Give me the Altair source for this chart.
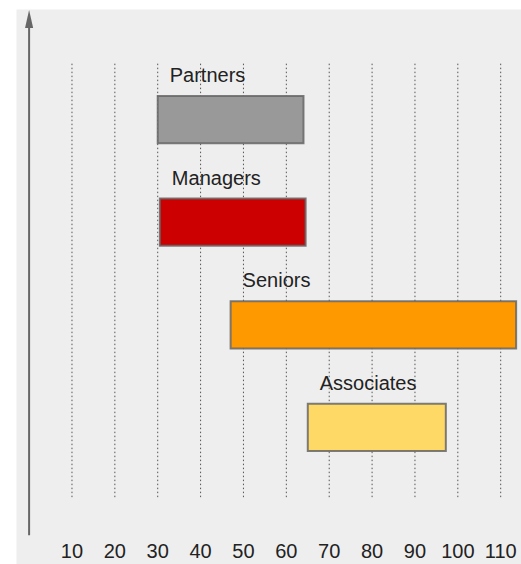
import altair as alt
import pandas as pd

# ---- data ----
groups = ["Partners", "Managers", "Seniors", "Associates"]
levels = [4, 3, 2, 1]
starts = [30, 30.5, 47, 65]
ends = [64, 64.5, 113.6, 97.2]
colors = ["#999999", "#cc0000", "#ff9900", "#ffd966"]
ticks = [10, 20, 30, 40, 50, 60, 70, 80, 90, 100, 110]

df = pd.DataFrame({"group": groups, "level": levels, "start": starts, "end": ends})
tdf = pd.DataFrame({"t": ticks})
one = pd.DataFrame({"a": [0]})

BAR_HALF = 0.23
FONT = "Liberation Sans Narrow, Liberation Sans, Arial"

xs = alt.Scale(domain=[0, 110], range=[13.1, 484.7])
ys = alt.Scale(domain=[0, 5], range=[521, 8])

grid = alt.Chart(tdf).mark_rule(strokeDash=[1.5, 2.5], color="#555", strokeWidth=1).encode(
    x=alt.X("t:Q", scale=xs, axis=None),
    y=alt.Y(datum=0.32, scale=ys, axis=None),
    y2=alt.Y2(datum=4.56),
)

tick_text = alt.Chart(tdf).mark_text(fontSize=20, font=FONT, color="#222", baseline="middle").encode(
    x=alt.X("t:Q", scale=xs, axis=None),
    y=alt.Y(datum=-0.21, scale=ys, axis=None),
    text="t:Q",
)

bars = alt.Chart(df).transform_calculate(
    y0=f"datum.level - {BAR_HALF}", y1=f"datum.level + {BAR_HALF}"
).mark_rect(stroke="#666666", strokeWidth=2, strokeOpacity=0.85).encode(
    x=alt.X("start:Q", scale=xs, axis=None),
    x2="end:Q",
    y=alt.Y("y0:Q", scale=ys, axis=None),
    y2="y1:Q",
    color=alt.Color("group:N", scale=alt.Scale(domain=groups, range=colors), legend=None),
)

labels = alt.Chart(df).transform_calculate(
    y1=f"datum.level + {BAR_HALF}"
).mark_text(align="left", baseline="middle", dx=12, dy=-20, fontSize=20, font=FONT, color="#222").encode(
    x=alt.X("start:Q", scale=xs, axis=None),
    y=alt.Y("y1:Q", scale=ys, axis=None),
    text="group:N",
)

axis_line = alt.Chart(one).mark_rule(color="#666", strokeWidth=2).encode(
    x=alt.X(datum=0, scale=xs, axis=None),
    y=alt.Y(datum=-0.05, scale=ys, axis=None),
    y2=alt.Y2(datum=4.9),
)

arrow = alt.Chart(one).mark_point(
    shape="M0,-1L0.45,1L-0.45,1Z", filled=True, size=324, color="#666", opacity=1
).encode(
    x=alt.X(datum=0, scale=xs, axis=None),
    y=alt.Y(datum=4.98, scale=ys, axis=None),
)

chart = alt.layer(grid, tick_text, bars, labels, axis_line, arrow).properties(
    width=505,
    height=555,
    padding={"left": 16, "top": 9, "right": 0, "bottom": 0},
    autosize="none",
    background="white",
).configure_view(fill="#eeeeee", stroke="transparent")

chart.save("out.html", embed_options={"renderer": "svg", "actions": False})
